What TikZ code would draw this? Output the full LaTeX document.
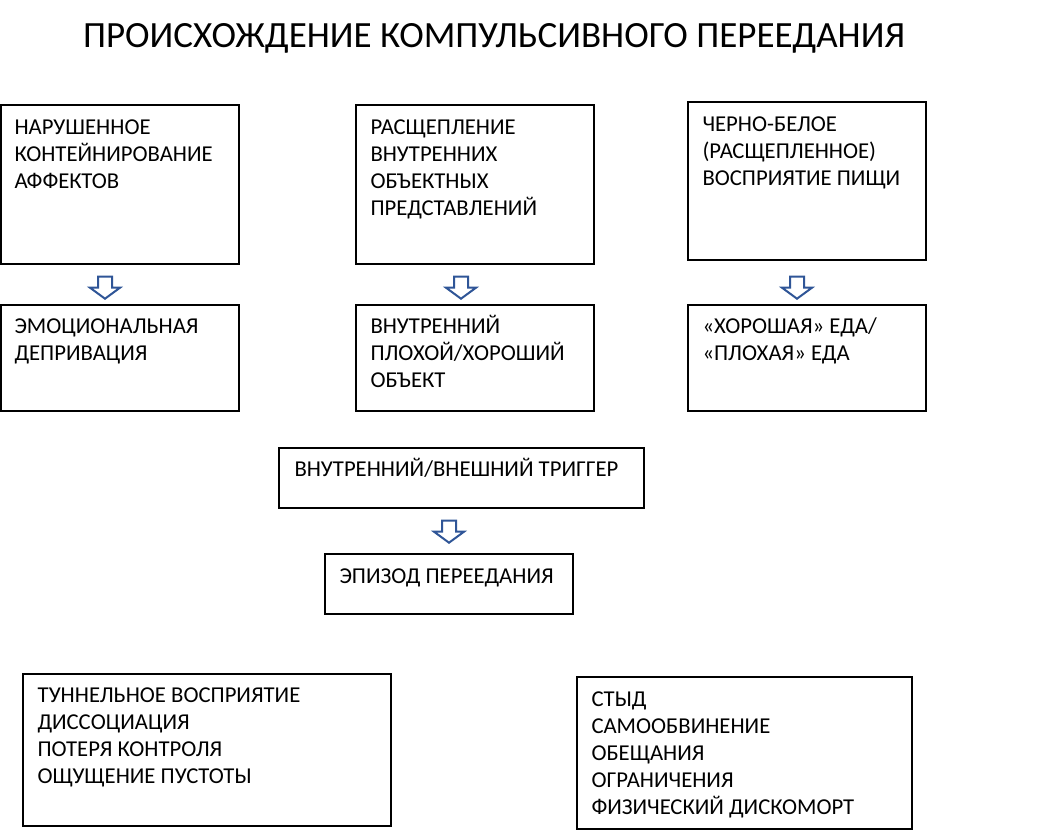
\documentclass[tikz,border=0pt]{standalone}
\usepackage{fontspec}
\setmainfont{Carlito}
\begin{document}
\begin{tikzpicture}[x=1pt,y=-1pt,
  box/.style={draw=black, line width=1.4pt, inner sep=0pt},
  txt/.style={anchor=north west, inner sep=0pt, align=left, font=\fontsize{22.7}{27}\selectfont},
  darr/.pic={\draw[arrowblue, line width=2pt, line join=miter, fill=white]
     (-7,0) -- (7,0) -- (7,11) -- (15,11) -- (0,22) -- (-15,11) -- (-7,11) -- cycle;}
]
\definecolor{arrowblue}{HTML}{2F5597}
\tikzset{arrowblue/.style={draw=arrowblue}}
\useasboundingbox[fill=white] (0,0) rectangle (1050,835);
\newcommand{\bx}[5]{\node[box, minimum width=#4-#2, minimum height=#5-#3] (#1) at ({(#2+#4)/2},{(#3+#5)/2}) {};}

\node[font=\fontsize{37}{44}\selectfont, inner sep=0pt] (title) at (494,38) {ПРОИСХОЖДЕНИЕ КОМПУЛЬСИВНОГО ПЕРЕЕДАНИЯ};

\bx{A1}{1}{105}{239}{264}
\bx{A2}{356}{105}{594}{264}
\bx{A3}{688}{102}{926}{260}
\bx{B1}{1}{305}{239}{411}
\bx{B2}{356}{305}{594}{411}
\bx{B3}{688}{305}{926}{411}
\bx{C}{279}{448}{644}{508}
\bx{D}{325}{554}{573}{614}
\bx{E1}{23}{674}{391}{826}
\bx{E2}{577}{677}{912}{829}

\node[txt] (tA1) at ([shift={(14,11)}]A1.north west) {\strut НАРУШЕННОЕ\\КОНТЕЙНИРОВАНИЕ\\АФФЕКТОВ};
\node[txt] (tA2) at ([shift={(15,11)}]A2.north west) {\strut РАСЩЕПЛЕНИЕ\\ВНУТРЕННИХ\\ОБЪЕКТНЫХ\\ПРЕДСТАВЛЕНИЙ};
\node[txt] (tA3) at ([shift={(15,11)}]A3.north west) {\strut ЧЕРНО-БЕЛОЕ\\(РАСЩЕПЛЕННОЕ)\\ВОСПРИЯТИЕ ПИЩИ};
\node[txt] (tB1) at ([shift={(14,10)}]B1.north west) {\strut ЭМОЦИОНАЛЬНАЯ\\ДЕПРИВАЦИЯ};
\node[txt] (tB2) at ([shift={(15,10)}]B2.north west) {\strut ВНУТРЕННИЙ\\ПЛОХОЙ/ХОРОШИЙ\\ОБЪЕКТ};
\node[txt] (tB3) at ([shift={(15,10)}]B3.north west) {\strut «ХОРОШАЯ» ЕДА/\\«ПЛОХАЯ» ЕДА};
\node[txt] (tC) at ([shift={(16,10)}]C.north west) {\strut ВНУТРЕННИЙ/ВНЕШНИЙ ТРИГГЕР};
\node[txt] (tD) at ([shift={(15,11)}]D.north west) {\strut ЭПИЗОД ПЕРЕЕДАНИЯ};
\node[txt] (tE1) at ([shift={(15,10)}]E1.north west) {\strut ТУННЕЛЬНОЕ ВОСПРИЯТИЕ\\ДИССОЦИАЦИЯ\\ПОТЕРЯ КОНТРОЛЯ\\ОЩУЩЕНИЕ ПУСТОТЫ};
\node[txt] (tE2) at ([shift={(15,11)}]E2.north west) {\strut СТЫД\\САМООБВИНЕНИЕ\\ОБЕЩАНИЯ\\ОГРАНИЧЕНИЯ\\ФИЗИЧЕСКИЙ ДИСКОМОРТ};

\path (A1.south -| 105,0) ++(0,12) pic {darr};
\path (A2.south -| 461,0) ++(0,12) pic {darr};
\path (A3.south -| 797,0) ++(0,16) pic {darr};
\path (C.south -| 449,0) ++(0,12) pic {darr};
\end{tikzpicture}
\end{document}
